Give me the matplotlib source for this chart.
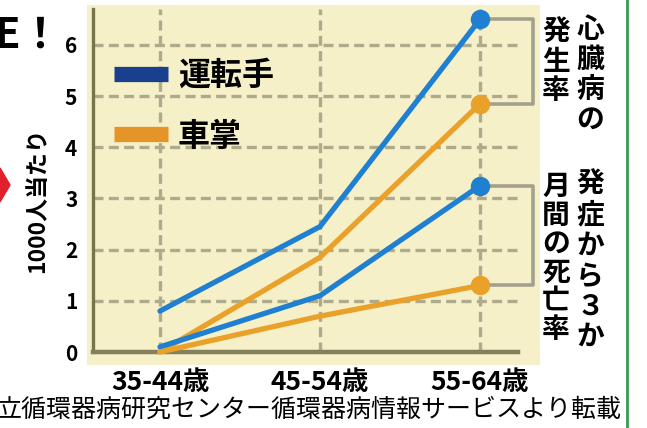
import matplotlib
matplotlib.use('Agg')
import matplotlib.pyplot as plt
from matplotlib.lines import Line2D
from matplotlib.patches import Polygon

plt.rcParams['font.family'] = ['Noto Sans CJK JP', 'DejaVu Sans']

ages = ['35-44歳', '45-54歳', '55-64歳']
driver_onset = [0.8, 2.45, 6.5]
conductor_onset = [0.0, 1.85, 4.85]
driver_death = [0.1, 1.1, 3.25]
conductor_death = [0.0, 0.7, 1.3]
yticks = [0, 1, 2, 3, 4, 5, 6]

W, H = 647, 428
fig = plt.figure(figsize=(W / 100, H / 100), dpi=100)
fig.patch.set_facecolor('white')

def fx(px):
    return px / W

def fy(py):
    return 1 - py / H

ax = fig.add_axes([fx(87), fy(365), fx(540) - fx(87), fy(5) - fy(365)])
ax.set_facecolor('#f6f0c8')
ax.set_xlim(-0.456, 2.375)
ax.set_ylim(-0.254, 6.78)
for s in ax.spines.values():
    s.set_visible(False)

grid_c = '#aeaa8c'
x = range(len(ages))
for v in yticks[1:]:
    ax.plot([-0.42, 2.24], [v, v], color=grid_c, lw=2.4, ls=(0, (3, 1.6)), zorder=1)
for i in x:
    ax.plot([i, i], [0, 6.7], color=grid_c, lw=2.4, ls=(0, (3, 1.6)), zorder=1)
ax.plot([-0.42, -0.42], [0, 6.7], color='#77734f', lw=2.4, zorder=2)
ax.plot([-0.42, 2.24], [0, 0], color='#857f5e', lw=3.2, zorder=2)

# brackets
br = '#a3a18e'
bx = 2.33
for top, bot in [(driver_onset[2], conductor_onset[2]), (driver_death[2], conductor_death[2])]:
    ax.plot([2.02, bx, bx, 2.02], [top, top, bot, bot], color=br, lw=2.6, zorder=2)

blue = '#1f7fd0'
orange = '#eaa12a'
for ys, c in [(driver_onset, blue), (conductor_onset, orange),
              (driver_death, blue), (conductor_death, orange)]:
    ax.plot(list(x), ys, color=c, lw=3.8, marker='o', markevery=[2],
            markersize=13, solid_capstyle='round', zorder=4)

ax.set_xticks(list(x))
ax.set_xticklabels(ages, fontsize=19, fontweight='bold')
ax.set_yticks(yticks)
ax.set_yticklabels([str(v) for v in yticks], fontsize=15, fontweight='bold')
ax.tick_params(length=0)
ax.tick_params(axis='x', pad=3)
ax.tick_params(axis='y', pad=7)

handles = [Line2D([], [], color='#1b3f8f', lw=11, solid_capstyle='butt'),
           Line2D([], [], color='#e59527', lw=11, solid_capstyle='butt')]
ax.legend(handles, ['運転手', '車掌'], loc='upper left', bbox_to_anchor=(0.024, 0.892),
          frameon=False, borderpad=0, handlelength=1.7, handletextpad=0.3,
          labelspacing=0.9, prop={'size': 23, 'weight': 'bold'})

fig.text(fx(38), fy(200), '1000人当たり', rotation=90, ha='center', va='center',
         fontsize=16.5, fontweight='bold')

def vtext(s, cx, y0, step, size=20):
    for k, ch in enumerate(s):
        fig.text(fx(cx), fy(y0 + k * step), ch, ha='center', va='center',
                 fontsize=size, fontweight='bold')

vtext('心臓病の', 590, 30, 30)
vtext('発生率', 556, 33, 29)
vtext('発症から３か', 590, 185, 30.4)
vtext('月間の死亡率', 556, 187, 28.5)

fig.text(fx(-3), fy(410), '立循環器病研究センター循環器病情報サービスより転載',
         ha='left', va='center', fontsize=18)
fig.text(fx(-6), fy(36), 'E！', ha='left', va='center', fontsize=30, fontweight='bold')

fig.add_artist(Polygon([(fx(0), fy(168)), (fx(10), fy(185)), (fx(0), fy(202))],
                       closed=True, transform=fig.transFigure, color='#e0202a'))
fig.add_artist(Line2D([fx(627), fx(627)], [0, 1], transform=fig.transFigure,
                      color='#3a9a50', lw=2))

fig.savefig('out.png', dpi=100)
